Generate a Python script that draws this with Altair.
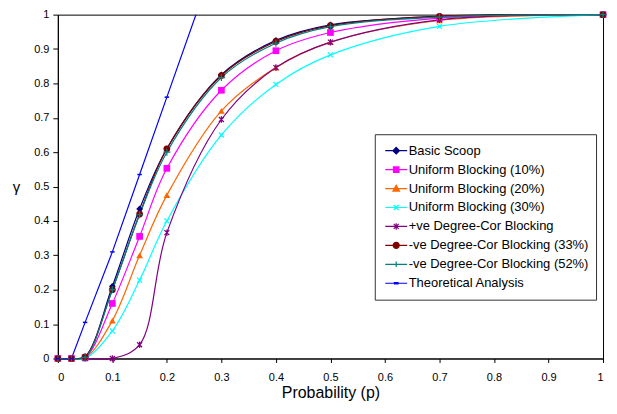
import altair as alt
import pandas as pd

x_vals = [0, 0.025, 0.05, 0.1, 0.15, 0.2, 0.3, 0.4, 0.5, 0.7, 1.0]
series_names = [
    "Basic Scoop",
    "Uniform Blocking (10%)",
    "Uniform Blocking (20%)",
    "Uniform Blocking (30%)",
    "+ve Degree-Cor Blocking",
    "-ve Degree-Cor Blocking (33%)",
    "-ve Degree-Cor Blocking (52%)",
    "Theoretical Analysis",
]
basic = [0, 0, 0.005, 0.21, 0.435, 0.61, 0.825, 0.925, 0.97, 0.995, 1.0]
uni10 = [0, 0, 0.002, 0.16, 0.355, 0.553, 0.78, 0.895, 0.948, 0.99, 1.0]
uni20 = [0, 0, 0.001, 0.11, 0.30, 0.475, 0.72, 0.846, 0.92, 0.983, 1.0]
uni30 = [0, 0, 0, 0.08, 0.228, 0.40, 0.65, 0.797, 0.883, 0.966, 1.0]
posdeg = [0, 0, 0, 0, 0.04, 0.366, 0.695, 0.846, 0.92, 0.985, 1.0]
neg33 = [0, 0, 0.005, 0.20, 0.42, 0.61, 0.823, 0.922, 0.968, 0.995, 1.0]
neg52 = [0, 0, 0.003, 0.20, 0.418, 0.60, 0.817, 0.917, 0.965, 0.993, 1.0]
theo_x = [0, 0.025, 0.05, 0.1, 0.15, 0.2, 0.3]
theo = [0, 0, 0.105, 0.31, 0.535, 0.76, 1.21]

colors = ["#000080", "#FF00FF", "#FF6600", "#00FFFF", "#800080", "#800000", "#008080", "#0000FF"]

rows = []
for name, vals in zip(series_names[:7], [basic, uni10, uni20, uni30, posdeg, neg33, neg52]):
    for xv, yv in zip(x_vals, vals):
        rows.append({"series": name, "p": xv, "g": yv})
df = pd.DataFrame(rows)
df_theo = pd.DataFrame({"series": series_names[7], "p": theo_x, "g": theo})
df_all = pd.concat([df, df_theo], ignore_index=True)
df_all["order"] = df_all["series"].map({n: i for i, n in enumerate(series_names)})

# legend-only symbols (line + marker)
legend_paths = [
    "M-2.2,0H2.2M0,-0.65L0.65,0L0,0.65L-0.65,0Z",
    "M-2.2,0H2.2M-0.55,-0.55H0.55V0.55H-0.55Z",
    "M-2.2,0H2.2M0,-0.65L0.65,0.5H-0.65Z",
    "M-2.2,0H2.2M-0.5,-0.5L0.5,0.5M-0.5,0.5L0.5,-0.5",
    "M-2.2,0H2.2M-0.5,-0.5L0.5,0.5M-0.5,0.5L0.5,-0.5M0,-0.65V0.65",
    "M-2.2,0H2.2M-0.6,0A0.6,0.6 0 1,0 0.6,0A0.6,0.6 0 1,0 -0.6,0Z",
    "M-2.2,0H2.2M0,-0.55V0.55",
    "M-2.2,0H2.2M-0.35,-0.12H0.35V0.12H-0.35Z",
]
df_leg = pd.DataFrame({"series": series_names, "p": [-1.0] * 8, "g": [-1.0] * 8})

xs = alt.Scale(domain=[0, 1], nice=False, zero=False)
ys = alt.Scale(domain=[0, 1], nice=False, zero=False)
tick_vals = [round(i * 0.1, 1) for i in range(11)]

PW, PH = 547, 345

X = alt.X("p:Q", scale=xs, axis=alt.Axis(
    values=tick_vals, format="~g", title="Probability (p)", grid=False,
    tickSize=4, labelPadding=9, titleY=39, titleBaseline="alphabetic",
    titleFontWeight="normal", titleFontSize=16, labelFontSize=11,
))
Y = alt.Y("g:Q", scale=ys, axis=alt.Axis(
    values=tick_vals, format="~g", title="γ", grid=False, tickSize=5,
    labelPadding=4, titleAngle=0, titleX=-42, titleY=PH / 2, titleAlign="center",
    titleBaseline="middle", titleFontWeight="normal", titleFontSize=15, labelFontSize=11,
))

base = alt.Chart(df_all)

lines = base.transform_filter(alt.datum.order < 7).mark_line(
    interpolate="catmull-rom", strokeWidth=1.2
).encode(
    x=X, y=Y,
    color=alt.Color("series:N", scale=alt.Scale(domain=series_names[:7], range=colors[:7]), legend=None),
    detail="series:N",
    order="p:Q",
)
theo_line = base.transform_filter(alt.datum.order == 7).mark_line(
    strokeWidth=1.2, clip=True, color="#0000FF"
).encode(x=X, y=Y, order="p:Q")

marker_specs = [
    dict(shape="diamond", filled=True, size=45),
    dict(shape="square", filled=True, size=45),
    dict(shape="triangle-up", filled=True, size=45),
    dict(shape="M-1,-1L1,1M-1,1L1,-1", filled=False, size=25, strokeWidth=1.2),
    dict(shape="M-1,-1L1,1M-1,1L1,-1M0,-1.3V1.3", filled=False, size=25, strokeWidth=1.2),
    dict(shape="circle", filled=True, size=45),
    dict(shape="M-1,0H1M0,-1V1", filled=False, size=50, strokeWidth=1.2),
    dict(shape="M-1,0H1", filled=False, size=20, strokeWidth=1.5),
]
point_layers = []
for i, spec in enumerate(marker_specs):
    point_layers.append(
        base.transform_filter(alt.datum.order == i)
        .transform_filter(alt.datum.g <= 1)
        .mark_point(color=colors[i], opacity=1, **spec)
        .encode(x=X, y=Y)
    )

def make_legend():
    return alt.Legend(
        title=None, orient="none", legendX=318, legendY=120, padding=7,
        strokeColor="#333333", fillColor="#FFFFFF",
        labelFont="Liberation Sans", labelFontSize=13, labelColor="#000000", labelLimit=400,
        symbolSize=100, rowPadding=0, clipHeight=19, labelOffset=6, symbolOffset=8,
        symbolStrokeWidth=1.2,
    )

legend_layer = alt.Chart(df_leg).mark_point(clip=True, filled=True, strokeWidth=1.2, opacity=1).encode(
    x=X, y=Y,
    fill=alt.Fill("series:N", scale=alt.Scale(domain=series_names, range=colors), legend=make_legend()),
    stroke=alt.Stroke("series:N", scale=alt.Scale(domain=series_names, range=colors), legend=make_legend()),
    shape=alt.Shape("series:N", scale=alt.Scale(domain=series_names, range=legend_paths), legend=make_legend()),
)

chart = alt.layer(lines, theo_line, *point_layers, legend_layer).properties(
    width=PW, height=PH,
    padding={"left": 4, "top": 0, "right": 0, "bottom": 0},
).configure_view(
    stroke="#000000", strokeWidth=1
).configure_axis(
    domainColor="#000000", tickColor="#000000", labelColor="#000000", titleColor="#000000",
    labelFont="Liberation Sans", titleFont="Liberation Sans",
)

chart.save("out.html", embed_options={"renderer": "svg", "actions": False})
